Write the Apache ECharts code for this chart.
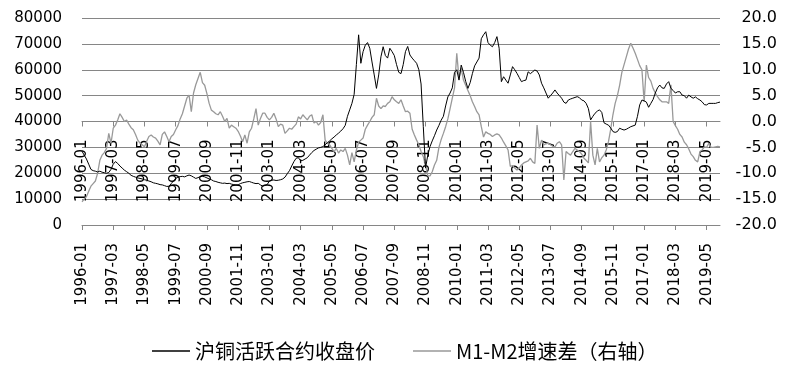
<!DOCTYPE html>
<html>
<head>
<meta charset="utf-8">
<script src="https://cdn.jsdelivr.net/npm/echarts@6/dist/echarts.min.js"></script>
<style>
html,body{margin:0;padding:0;background:#fff;}
#chart{width:790px;height:373px;}
</style>
</head>
<body>
<div id="chart"></div>
<script>
// Monthly categories 1996-01 .. 2019-11
var startYear = 1996, endYear = 2019, endMonth = 11;
var months = [];
for (var y = startYear; y <= endYear; y++) {
  for (var m = 1; m <= 12; m++) {
    if (y === endYear && m > endMonth) break;
    months.push(y + '-' + (m < 10 ? '0' + m : m));
  }
}

// 沪铜活跃合约收盘价 (left axis), one row per year
var copperPrice = [
  28500, 27000, 25500, 23500, 21500, 21000, 20800, 20500, 20800, 20400, 20200, 20000,
  20300, 21500, 23500, 24500, 23800, 22800, 22000, 21200, 20600, 20000, 19200, 18800,
  18500, 18200, 18000, 17800, 17500, 17300, 17000, 16700, 16300, 16100, 15900, 15600,
  15500, 15200, 14900, 15000, 16000, 17000, 18000, 18500, 18700, 18800, 18600, 19000,
  19300, 19000, 18500, 18000, 18300, 18700, 18800, 18600, 18200, 17800, 17500, 17000,
  16800, 16500, 16300, 16100, 16200, 16000, 16100, 15800, 15600, 15400, 15500, 16000,
  16300, 16500, 16700, 16800, 16500, 16200, 16000, 16100, 15500, 15000, 15300, 15600,
  17000, 17300, 17400, 17200, 17300, 17500, 17800, 18500, 19800, 21000, 22800, 24500,
  25800, 26000, 24800, 25000, 25500, 26000, 27000, 28000, 28800, 29300, 29800, 30000,
  30300, 31000, 31800, 32500, 33300, 34000, 34800, 35500, 36300, 37200, 38500, 42000,
  44500, 47000, 50500, 62000, 73500, 62500, 67000, 69500, 70500, 68300, 63000, 58000,
  52800, 58000, 65000, 68900, 65500, 64500, 68300, 67000, 65500, 62000, 59000, 58500,
  62000, 67000, 69000, 65700, 64500, 63500, 62500, 60000, 54500, 38000, 22000, 27000,
  30300, 32500, 34500, 36700, 38500, 40500, 42000, 46000, 49500, 51000, 53000, 59000,
  60000, 56000, 61800, 59000, 55500, 52800, 55000, 58500, 61500, 63000, 64500, 72000,
  73500, 74700, 70500, 69500, 68900, 70500, 72800, 68300, 55400, 57300, 56000, 54800,
  58000, 61200, 60000, 58600, 57000, 55400, 55800, 56000, 59200, 58500, 59200, 59900,
  59500, 58000, 54800, 53000, 51000, 49000, 50000, 51000, 52200, 51000, 50000, 49000,
  47500, 47000, 48300, 48700, 49000, 49300, 49600, 49200, 48300, 48000, 47000, 45000,
  40600, 42000, 43200, 44000, 44500, 43500, 39500, 39000, 38600, 37500, 36100, 35800,
  36100, 37400, 37000, 36700, 37000, 37500, 38000, 38300, 38600, 42000, 46400, 48300,
  48000, 47500, 45500, 47000, 48500, 51000, 53000, 54100, 53000, 52800, 54500, 55400,
  52800, 52000, 51000, 51500, 51500, 50200, 50000, 49000, 50200, 49500, 49000, 49500,
  48800, 48300, 47600, 46500, 46400, 47000, 47000, 47000, 47000, 47300, 47500
];

// M1-M2增速差 (right axis, %), one row per year
var m1m2Gap = [
  -15.5, -15.0, -14.5, -13.5, -12.5, -12.0, -11.5, -10.0, -7.5, -6.5, -6.0, -5.2,
  -2.3, -4.2, -1.3, -0.7, 0.3, 1.5, 0.8, 0.0, 0.3, -0.5, -1.2, -1.6,
  -2.5, -3.6, -4.2, -4.5, -4.9, -3.8, -2.9, -2.6, -3.0, -3.2, -3.8, -4.5,
  -2.5, -2.0, -2.9, -3.9, -2.9, -2.5, -1.6, -0.8, 0.5, 1.5, 3.0, 4.5,
  5.1, 1.9, 5.5, 7.1, 8.3, 9.5, 7.5, 7.0, 5.4, 3.5, 2.2, 1.9,
  1.5, 1.3, 1.9, 1.0, 0.0, 0.6, -1.3, -0.7, -1.0, -1.3, -1.9, -2.8,
  -3.9, -2.6, -4.2, -2.0, -1.3, 0.5, 2.5, -0.7, 0.6, 1.6, 1.6, 0.8,
  0.3, 0.8, 1.6, 0.5, -1.0, -0.5, -0.7, -2.3, -1.8, -1.3, -1.5, -1.0,
  -0.5, 0.9, 0.5, 1.3, 0.8, 0.3, 1.0, 1.3, -0.3, 0.0, -0.7, -0.2,
  1.3, -3.6, -4.2, -4.5, -5.2, -5.8, -5.2, -6.1, -5.5, -5.8, -5.2, -6.5,
  -8.4, -6.0, -7.8, -5.5, -4.0, -3.6, -3.2, -1.5, -0.7, 0.0, 0.8, 1.3,
  4.5, 3.0, 2.5, 3.0, 2.9, 3.5, 3.8, 4.8, 4.2, 3.8, 3.5, 4.2,
  3.0, 1.9, 2.0, 1.6, -1.5, -2.6, -3.6, -4.5, -5.8, -6.8, -8.4, -10.5,
  -10.5, -9.7, -8.4, -7.5, -5.0, -3.5, -2.3, -1.0, 0.5, 2.5, 4.5, 6.5,
  13.2, 8.3, 10.3, 8.0, 7.0, 6.0, 5.0, 3.8, 2.9, 1.9, 1.3, -1.0,
  -3.0, -2.0, -2.3, -2.5, -2.9, -2.6, -2.4, -2.6, -3.2, -4.0, -4.7, -5.5,
  -8.7, -8.5, -9.0, -9.4, -9.0, -8.4, -8.0, -7.8, -7.6, -7.1, -7.8, -8.1,
  -0.7, -5.2, -3.6, -4.5, -4.3, -4.2, -4.5, -4.8, -4.9, -4.2, -3.9, -4.5,
  -11.3, -5.8, -6.2, -6.5, -5.8, -5.2, -5.5, -5.8, -6.3, -7.1, -7.5, -8.0,
  0.0, -6.5, -8.4, -5.2, -7.8, -7.0, -6.5, -5.5, -3.9, -1.5, 1.3, 3.5,
  5.0, 7.0, 9.5, 11.0, 12.5, 14.0, 15.1, 14.2, 13.2, 12.0, 10.8, 10.0,
  3.8, 10.9, 8.5, 7.8, 6.4, 5.5, 4.8, 4.2, 3.8, 3.8, 3.8, 3.5,
  7.1, 0.0, -0.8, -1.5, -2.5, -3.0, -4.0, -4.5, -5.3, -6.3, -6.8, -7.5,
  -7.8, -5.8, -5.5, -4.9, -5.0, -4.2, -5.0, -5.0, -4.9, -4.8, -4.9
];

var seriesNames = ['沪铜活跃合约收盘价', 'M1-M2增速差（右轴）'];
var leftTicks = [0, 80000, 10000];   // min, max, interval
var rightTicks = [-20, 20, 5];

var gridColor = '#868686';
var labelFont = 'DejaVu Sans';
var gridTop = 18, gridBottom = 148, chartH = 373;
var plotH = chartH - gridTop - gridBottom;
// second category axis sits where the right axis reads 0
var midOffset = -plotH * (0 - rightTicks[0]) / (rightTicks[1] - rightTicks[0]);

function makeXAxis(offset) {
  return {
    type: 'category',
    data: months,
    boundaryGap: false,
    position: 'bottom',
    offset: offset,
    axisLine: { show: true, onZero: false, lineStyle: { color: gridColor, width: 1 } },
    axisTick: { show: true, interval: 13, length: 5, lineStyle: { color: gridColor } },
    axisLabel: { interval: 13, rotate: 90, margin: 18, color: '#000', fontFamily: labelFont, fontSize: 15 },
    splitLine: { show: false }
  };
}

var chart = echarts.init(document.getElementById('chart'), null, { renderer: 'canvas' });
chart.setOption({
  animation: false,
  backgroundColor: '#fff',
  grid: { left: 82, right: 70, top: gridTop, bottom: gridBottom, containLabel: false },
  legend: {
    left: 147, top: 336,
    itemWidth: 38, itemHeight: 1.5, itemGap: 38,
    icon: 'rect',
    textStyle: { fontFamily: 'Noto Sans CJK SC', fontSize: 20, color: '#000' },
    data: seriesNames
  },
  xAxis: [makeXAxis(0), makeXAxis(midOffset)],
  yAxis: [
    {
      type: 'value', min: leftTicks[0], max: leftTicks[1], interval: leftTicks[2],
      axisLine: { show: false }, axisTick: { show: false },
      axisLabel: { margin: 20, color: '#000', fontFamily: labelFont, fontSize: 15,
        formatter: function (v) { return String(v); } },
      splitLine: { show: true, lineStyle: { color: gridColor, width: 1 } }
    },
    {
      type: 'value', min: rightTicks[0], max: rightTicks[1], interval: rightTicks[2],
      position: 'right',
      axisLine: { show: false }, axisTick: { show: false },
      axisLabel: { margin: 57, align: 'right', color: '#000', fontFamily: labelFont, fontSize: 16,
        formatter: function (v) { return v.toFixed(1); } },
      splitLine: { show: false }
    }
  ],
  series: [
    {
      name: seriesNames[0], type: 'line', xAxisIndex: 0, yAxisIndex: 0,
      data: copperPrice, symbol: 'none', z: 3,
      lineStyle: { color: '#000', width: 1 }, itemStyle: { color: '#000' }
    },
    {
      name: seriesNames[1], type: 'line', xAxisIndex: 1, yAxisIndex: 1,
      data: m1m2Gap, symbol: 'none', z: 2,
      lineStyle: { color: '#999999', width: 1.3 }, itemStyle: { color: '#999999' }
    }
  ]
});
</script>
</body>
</html>
